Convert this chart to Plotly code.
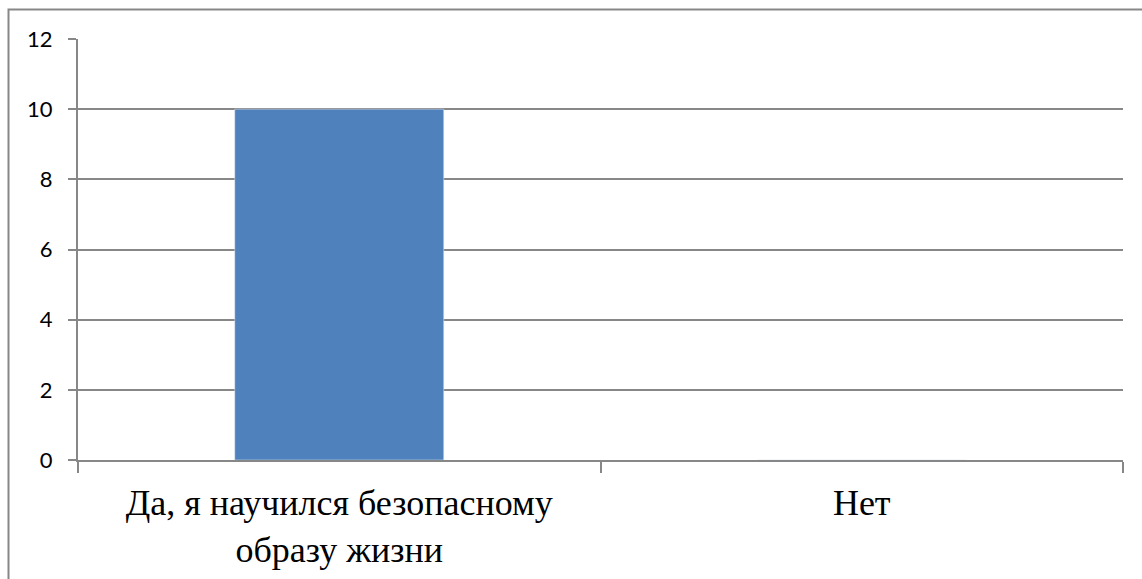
import plotly.graph_objects as go

categories = ["Да, я научился безопасному<br>образу жизни", "Нет"]
values = [10, 0]
y_ticks = [0, 2, 4, 6, 8, 10, 12]

W, H = 1142, 579
L, R, T, B = 78, 19, 39, 119
pw, ph = W - L - R, H - T - B

fig = go.Figure(go.Bar(x=categories, y=values, marker_color="#4F81BD", width=0.4))

grid = "#878787"
fig.update_layout(
    width=W, height=H, margin=dict(l=L, r=R, t=T, b=B, autoexpand=False),
    paper_bgcolor="white", plot_bgcolor="white", showlegend=False,
    xaxis=dict(type="category", tickson="boundaries", ticks="outside", ticklen=11,
               tickcolor=grid, tickwidth=2, showline=True, linecolor=grid, linewidth=2,
               showgrid=False, automargin=False,
               tickfont=dict(family="Liberation Serif", size=36, color="black"),
               ticklabelstandoff=10),
    yaxis=dict(range=[0, 12], tickvals=y_ticks, ticks="outside", ticklen=8, tickcolor=grid,
               tickwidth=2, showline=True, linecolor=grid, linewidth=2, showgrid=True,
               gridcolor=grid, gridwidth=2, zeroline=False, automargin=False,
               tickfont=dict(family="Lato", size=22, color="black"),
               ticklabelstandoff=11),
)

fig.add_shape(type="rect", xref="paper", yref="paper",
              x0=(8.5 - L) / pw, x1=(W + 20 - L) / pw,
              y0=-(H + 20 - T - ph) / ph, y1=(H - B - 9.5) / ph,
              line=dict(color=grid, width=2), fillcolor="rgba(0,0,0,0)", layer="below")

fig.write_html("out.html")
